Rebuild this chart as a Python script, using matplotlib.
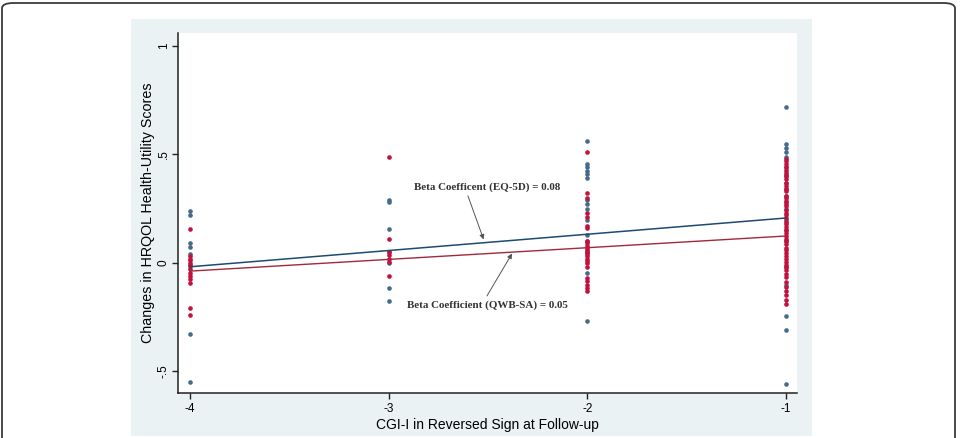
import matplotlib
matplotlib.use("Agg")
import matplotlib.pyplot as plt
from matplotlib.patches import FancyBboxPatch, Rectangle

# ---- data ----
eq5d_x = [-4]*9 + [-3]*7 + [-2]*15 + [-1]*21
eq5d_y = [0.24, 0.22, 0.09, 0.075, 0.04, 0.02, -0.01, -0.33, -0.55,
          0.29, 0.28, 0.157, 0.05, 0.0, -0.115, -0.175,
          0.56, 0.455, 0.44, 0.425, 0.41, 0.39, 0.29, 0.27, 0.25, 0.20, 0.13, 0.10, 0.05, -0.046, -0.267,
          0.72, 0.55, 0.53, 0.51, 0.49, 0.44, 0.42, 0.40, 0.37, 0.34, 0.31, 0.28, 0.25, 0.2, 0.15, 0.1,
          -0.02, -0.1, -0.245, -0.31, -0.56]

qwb_x = [-4]*12 + [-3]*7 + [-2]*24 + [-1]*47
qwb_y = [0.157, 0.03, 0.015, 0.0, -0.015, -0.03, -0.045, -0.06, -0.075, -0.095, -0.21, -0.24,
         0.49, 0.11, 0.05, 0.035, 0.02, 0.005, -0.06,
         0.51, 0.32, 0.30, 0.23, 0.21, 0.17, 0.16, 0.10, 0.09, 0.08, 0.07, 0.06, 0.05, 0.04, 0.03,
         0.02, 0.01, 0.0, -0.02, -0.07, -0.085, -0.10, -0.115, -0.13,
         0.48, 0.47, 0.455, 0.44, 0.43, 0.41, 0.40, 0.385, 0.37, 0.355, 0.34, 0.33, 0.31, 0.30,
         0.285, 0.27, 0.26, 0.245, 0.23, 0.22, 0.205, 0.19, 0.18, 0.165, 0.15, 0.14, 0.125, 0.11,
         0.10, 0.085, 0.07, 0.06, 0.045, 0.03, 0.02, 0.005, -0.01, -0.02, -0.035, -0.05, -0.065,
         -0.09, -0.11, -0.13, -0.15, -0.17, -0.19]

# fitted lines (intercept, slope)
eq5d_fit = (0.282, 0.075)
qwb_fit = (0.178, 0.054)
fit_x = [-4, -1]

xticks = [-4, -3, -2, -1]
xticklabels = ["-4", "-3", "-2", "-1"]
yticks = [-0.5, 0, 0.5, 1]
yticklabels = ["-.5", "0", ".5", "1"]

xlabel = "CGI-I in Reversed Sign at Follow-up"
ylabel = "Changes in HRQOL Health-Utility Scores"
note_eq = "Beta Coefficent (EQ-5D) = 0.08"
note_qwb = "Beta Coefficient (QWB-SA) = 0.05"
note_eq_pos = (-2.505, 0.35)
note_qwb_pos = (-2.505, -0.194)
arrow_eq = ((-2.601, 0.309), (-2.522, 0.108))
arrow_qwb = ((-2.505, -0.152), (-2.379, 0.043))

# ---- figure ----
W, H = 961, 438
fig = plt.figure(figsize=(W/100, H/100), dpi=100)
fig.patch.set_facecolor("white")

# outer rounded frame
frame = FancyBboxPatch((2/W, -20/H), 953/W, (H-3+20)/H,
                       boxstyle="round,pad=0,rounding_size=0.012",
                       transform=fig.transFigure, facecolor="none",
                       edgecolor="#3a3a3a", linewidth=1.3, zorder=-10)
fig.patches.append(frame)

# graph region (light blue-gray)
greg = Rectangle((131/W, 2/H), (812-131)/W, (436-17-2)/H, transform=fig.transFigure,
                 facecolor="#eaf2f3", edgecolor="none", zorder=-10)
fig.patches.append(greg)

ax = fig.add_axes([178/W, 1-393/H, 619/W, 360/H])
ax.set_zorder(5)
ax.set_facecolor("white")
ax.set_xlim(-4.06, -0.945)
ax.set_ylim(-0.60, 1.06)

blue_dot = "#456b8b"
red_dot = "#c5103c"
ax.scatter(eq5d_x, eq5d_y, s=11, color=blue_dot, linewidths=0, zorder=3)
ax.scatter(qwb_x, qwb_y, s=11, color=red_dot, linewidths=0, zorder=4)

fy_eq = [eq5d_fit[0] + eq5d_fit[1]*x for x in fit_x]
fy_qwb = [qwb_fit[0] + qwb_fit[1]*x for x in fit_x]
ax.plot(fit_x, fy_eq, color="#1d4a72", lw=1.1, zorder=5)
ax.plot(fit_x, fy_qwb, color="#a3283f", lw=1.0, zorder=5)

for s in ["top", "right"]:
    ax.spines[s].set_visible(False)
for s in ["left", "bottom"]:
    ax.spines[s].set_color("#222222")
    ax.spines[s].set_linewidth(1.1)

ax.set_xticks(xticks)
ax.set_xticklabels(xticklabels, fontsize=8.5, family="Liberation Sans")
ax.set_yticks(yticks)
ax.set_yticklabels(yticklabels, fontsize=8.5, family="Liberation Sans", rotation=90, va="center")
ax.tick_params(length=4.5, width=1.0, color="#222222")
ax.tick_params(axis="y", pad=1.5)
ax.tick_params(axis="x", pad=3)

ax.set_xlabel(xlabel, fontsize=10, family="Liberation Sans", labelpad=2)
ax.set_ylabel(ylabel, fontsize=10.3, family="Liberation Sans", labelpad=2)

serif = dict(family="Liberation Serif", fontweight="bold", fontsize=7.9, color="#333333")
ax.text(*note_eq_pos, note_eq, ha="center", va="center", zorder=6, **serif)
ax.text(*note_qwb_pos, note_qwb, ha="center", va="center", zorder=6, **serif)
for tail, head in (arrow_eq, arrow_qwb):
    ax.annotate("", xy=head, xytext=tail,
                arrowprops=dict(arrowstyle="-|>", color="#555555", lw=0.7,
                                mutation_scale=7, shrinkA=0, shrinkB=0), zorder=6)

fig.savefig("out.png", dpi=100)
